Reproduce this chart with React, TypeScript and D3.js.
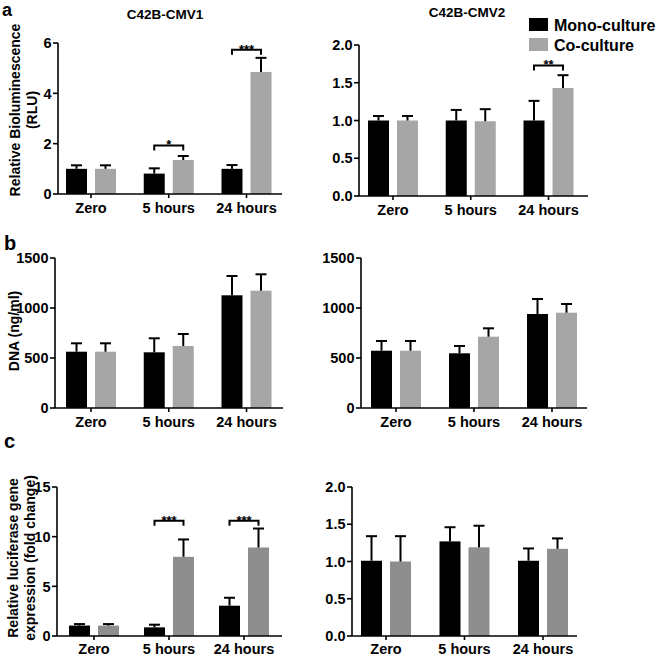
import React from "react";
import * as d3 from "d3";

const categories = ["Zero", "5 hours", "24 hours"];
const seriesNames = ["Mono-culture", "Co-culture"];

// Panel a – relative bioluminescence
const aCMV1Mono = [1.0, 0.81, 1.0];
const aCMV1MonoErr = [0.14, 0.21, 0.15];
const aCMV1Co = [1.0, 1.35, 4.85];
const aCMV1CoErr = [0.14, 0.16, 0.56];
const aCMV1Ticks = [0, 2, 4, 6];
const aCMV1Sig = [
  { cat: "5 hours", y: 1.93, label: "*" },
  { cat: "24 hours", y: 5.73, label: "***" },
];

const aCMV2Mono = [1.0, 1.0, 1.0];
const aCMV2MonoErr = [0.06, 0.14, 0.26];
const aCMV2Co = [1.0, 0.99, 1.43];
const aCMV2CoErr = [0.06, 0.16, 0.17];
const aCMV2Ticks = [0, 0.5, 1.0, 1.5, 2.0];
const aCMV2Sig = [{ cat: "24 hours", y: 1.73, label: "**" }];

// Panel b – DNA
const bCMV1Mono = [563, 557, 1127];
const bCMV1MonoErr = [84, 140, 193];
const bCMV1Co = [563, 620, 1173];
const bCMV1CoErr = [84, 120, 164];
const bCMV1Ticks = [0, 500, 1000, 1500];

const bCMV2Mono = [573, 547, 940];
const bCMV2MonoErr = [97, 73, 150];
const bCMV2Co = [573, 713, 953];
const bCMV2CoErr = [97, 84, 87];
const bCMV2Ticks = [0, 500, 1000, 1500];

// Panel c – luciferase gene expression
const cCMV1Mono = [1.05, 0.87, 3.05];
const cCMV1MonoErr = [0.15, 0.27, 0.8];
const cCMV1Co = [1.05, 7.97, 8.91];
const cCMV1CoErr = [0.15, 1.75, 1.91];
const cCMV1Ticks = [0, 5, 10, 15];
const cCMV1Sig = [
  { cat: "5 hours", y: 11.6, label: "***" },
  { cat: "24 hours", y: 11.6, label: "***" },
];

const cCMV2Mono = [1.01, 1.27, 1.01];
const cCMV2MonoErr = [0.33, 0.19, 0.165];
const cCMV2Co = [1.0, 1.19, 1.17];
const cCMV2CoErr = [0.34, 0.29, 0.14];
const cCMV2Ticks = [0, 0.5, 1.0, 1.5, 2.0];

const FONT = "'Liberation Sans', Arial, Helvetica, sans-serif";
const MONO_COLOR = "#000000";
const CO_COLOR_AB = "#a6a6a6";
const CO_COLOR_C = "#8e8e8e";

type Sig = { cat: string; y: number; label: string };

type Layout = {
  axisX: number;
  xEnd: number;
  yTop: number;
  yBottom: number;
  c0: number;
  c2: number;
  labelGap: number;
};

function Panel(props: {
  layout: Layout;
  mono: number[];
  monoErr: number[];
  co: number[];
  coErr: number[];
  ticks: number[];
  fmt: (v: number) => string;
  sig?: Sig[];
  coColor: string;
}) {
  const { layout, mono, monoErr, co, coErr, ticks, fmt, sig, coColor } = props;
  const yMax = ticks[ticks.length - 1];
  const y = d3.scaleLinear().domain([0, yMax]).range([layout.yBottom, layout.yTop]);
  const x = d3.scalePoint<string>().domain(categories).range([layout.c0, layout.c2]);
  const inner = d3.scaleBand<string>().domain(seriesNames).range([-25, 25]).paddingInner(0.276);
  const bw = inner.bandwidth();
  const capW = 11;

  const series = [
    { name: seriesNames[0], vals: mono, errs: monoErr, color: MONO_COLOR },
    { name: seriesNames[1], vals: co, errs: coErr, color: coColor },
  ];

  return (
    <g>
      {series.map((s) =>
        categories.map((c, i) => {
          const bx = (x(c) as number) + (inner(s.name) as number);
          const top = y(s.vals[i]);
          const errTop = y(s.vals[i] + s.errs[i]);
          const cx = bx + bw / 2;
          return (
            <g key={s.name + c}>
              <rect x={bx} y={top} width={bw} height={layout.yBottom - top} fill={s.color} />
              <line x1={cx} x2={cx} y1={top} y2={errTop} stroke="#000" strokeWidth={2} />
              <line x1={cx - capW / 2} x2={cx + capW / 2} y1={errTop} y2={errTop} stroke="#000" strokeWidth={2} />
            </g>
          );
        })
      )}
      <line x1={layout.axisX} x2={layout.axisX} y1={layout.yTop} y2={layout.yBottom} stroke="#000" strokeWidth={1.6} />
      <line x1={layout.axisX} x2={layout.xEnd} y1={layout.yBottom} y2={layout.yBottom} stroke="#000" strokeWidth={1.6} />
      {ticks.map((t) => (
        <g key={"t" + t}>
          <line x1={layout.axisX - 5} x2={layout.axisX} y1={y(t)} y2={y(t)} stroke="#000" strokeWidth={1.6} />
          <text
            x={layout.axisX - 6.5}
            y={y(t)}
            dy="0.36em"
            textAnchor="end"
            fontFamily={FONT}
            fontWeight="bold"
            fontSize={14.5}
          >
            {fmt(t)}
          </text>
        </g>
      ))}
      {categories.map((c) => (
        <g key={"c" + c}>
          <line x1={x(c)} x2={x(c)} y1={layout.yBottom} y2={layout.yBottom + 4} stroke="#000" strokeWidth={1.6} />
          <text
            x={x(c)}
            y={layout.yBottom + layout.labelGap}
            textAnchor="middle"
            fontFamily={FONT}
            fontWeight="bold"
            fontSize={14.5}
          >
            {c}
          </text>
        </g>
      ))}
      {(sig || []).map((s) => {
        const x1 = (x(s.cat) as number) + (inner(seriesNames[0]) as number) + bw / 2;
        const x2 = (x(s.cat) as number) + (inner(seriesNames[1]) as number) + bw / 2;
        const yy = y(s.y);
        return (
          <g key={"s" + s.cat}>
            <path
              d={`M${x1},${yy + 5}V${yy}H${x2}V${yy + 5}`}
              fill="none"
              stroke="#000"
              strokeWidth={2}
            />
            <text
              x={(x1 + x2) / 2}
              y={yy + 4}
              textAnchor="middle"
              fontFamily={FONT}
              fontWeight="bold"
              fontSize={13}
            >
              {s.label}
            </text>
          </g>
        );
      })}
    </g>
  );
}

const intFmt = (v: number) => d3.format("d")(v);
const dec1 = (v: number) => d3.format(".1f")(v);

export default function App() {
  const lblStyle = { fontFamily: FONT, fontWeight: "bold" as const, fontSize: 14 };
  return (
    <svg
      width={657}
      height={656}
      viewBox="0 0 657 656"
      style={{ position: "absolute", left: 0, top: 0, background: "#fff" }}
    >
      <rect width={657} height={656} fill="#fff" />
      <text x={2} y={16} fontFamily={FONT} fontWeight="bold" fontSize={18}>a</text>
      <text x={4} y={250} fontFamily={FONT} fontWeight="bold" fontSize={20}>b</text>
      <text x={4} y={448} fontFamily={FONT} fontWeight="bold" fontSize={20}>c</text>

      <text x={165} y={19} textAnchor="middle" fontFamily={FONT} fontWeight="bold" fontSize={13.5}>C42B-CMV1</text>
      <text x={467} y={17} textAnchor="middle" fontFamily={FONT} fontWeight="bold" fontSize={13.5}>C42B-CMV2</text>

      <rect x={529} y={18} width={19} height={13} fill={MONO_COLOR} />
      <text x={554} y={31} fontFamily={FONT} fontWeight="bold" fontSize={16}>{seriesNames[0]}</text>
      <rect x={529} y={38} width={19} height={13} fill={CO_COLOR_AB} />
      <text x={554} y={51} fontFamily={FONT} fontWeight="bold" fontSize={16}>{seriesNames[1]}</text>

      <text transform="translate(20,110) rotate(-90)" textAnchor="middle" {...lblStyle}>Relative Bioluminescence</text>
      <text transform="translate(37,110) rotate(-90)" textAnchor="middle" {...lblStyle}>(RLU)</text>
      <text transform="translate(19,331) rotate(-90)" textAnchor="middle" {...lblStyle}>DNA (ng/ml)</text>
      <text transform="translate(18,558) rotate(-90)" textAnchor="middle" {...lblStyle}>Relative luciferase gene</text>
      <text transform="translate(34.5,558) rotate(-90)" textAnchor="middle" {...lblStyle}>expression (fold change)</text>

      <Panel
        layout={{ axisX: 58, xEnd: 282, yTop: 43, yBottom: 194, c0: 91, c2: 246.5, labelGap: 19 }}
        mono={aCMV1Mono} monoErr={aCMV1MonoErr} co={aCMV1Co} coErr={aCMV1CoErr}
        ticks={aCMV1Ticks} fmt={intFmt} sig={aCMV1Sig} coColor={CO_COLOR_AB}
      />
      <Panel
        layout={{ axisX: 359, xEnd: 588, yTop: 45, yBottom: 196, c0: 393, c2: 548.5, labelGap: 19 }}
        mono={aCMV2Mono} monoErr={aCMV2MonoErr} co={aCMV2Co} coErr={aCMV2CoErr}
        ticks={aCMV2Ticks} fmt={dec1} sig={aCMV2Sig} coColor={CO_COLOR_AB}
      />
      <Panel
        layout={{ axisX: 55, xEnd: 283, yTop: 258, yBottom: 408, c0: 91, c2: 246.5, labelGap: 19 }}
        mono={bCMV1Mono} monoErr={bCMV1MonoErr} co={bCMV1Co} coErr={bCMV1CoErr}
        ticks={bCMV1Ticks} fmt={intFmt} coColor={CO_COLOR_AB}
      />
      <Panel
        layout={{ axisX: 361, xEnd: 587, yTop: 258, yBottom: 408, c0: 396, c2: 552, labelGap: 19 }}
        mono={bCMV2Mono} monoErr={bCMV2MonoErr} co={bCMV2Co} coErr={bCMV2CoErr}
        ticks={bCMV2Ticks} fmt={intFmt} coColor={CO_COLOR_AB}
      />
      <Panel
        layout={{ axisX: 57, xEnd: 282, yTop: 487, yBottom: 636, c0: 94, c2: 244, labelGap: 17.5 }}
        mono={cCMV1Mono} monoErr={cCMV1MonoErr} co={cCMV1Co} coErr={cCMV1CoErr}
        ticks={cCMV1Ticks} fmt={intFmt} sig={cCMV1Sig} coColor={CO_COLOR_C}
      />
      <Panel
        layout={{ axisX: 352, xEnd: 577, yTop: 487, yBottom: 636, c0: 386, c2: 543, labelGap: 17.5 }}
        mono={cCMV2Mono} monoErr={cCMV2MonoErr} co={cCMV2Co} coErr={cCMV2CoErr}
        ticks={cCMV2Ticks} fmt={dec1} coColor={CO_COLOR_C}
      />
    </svg>
  );
}
